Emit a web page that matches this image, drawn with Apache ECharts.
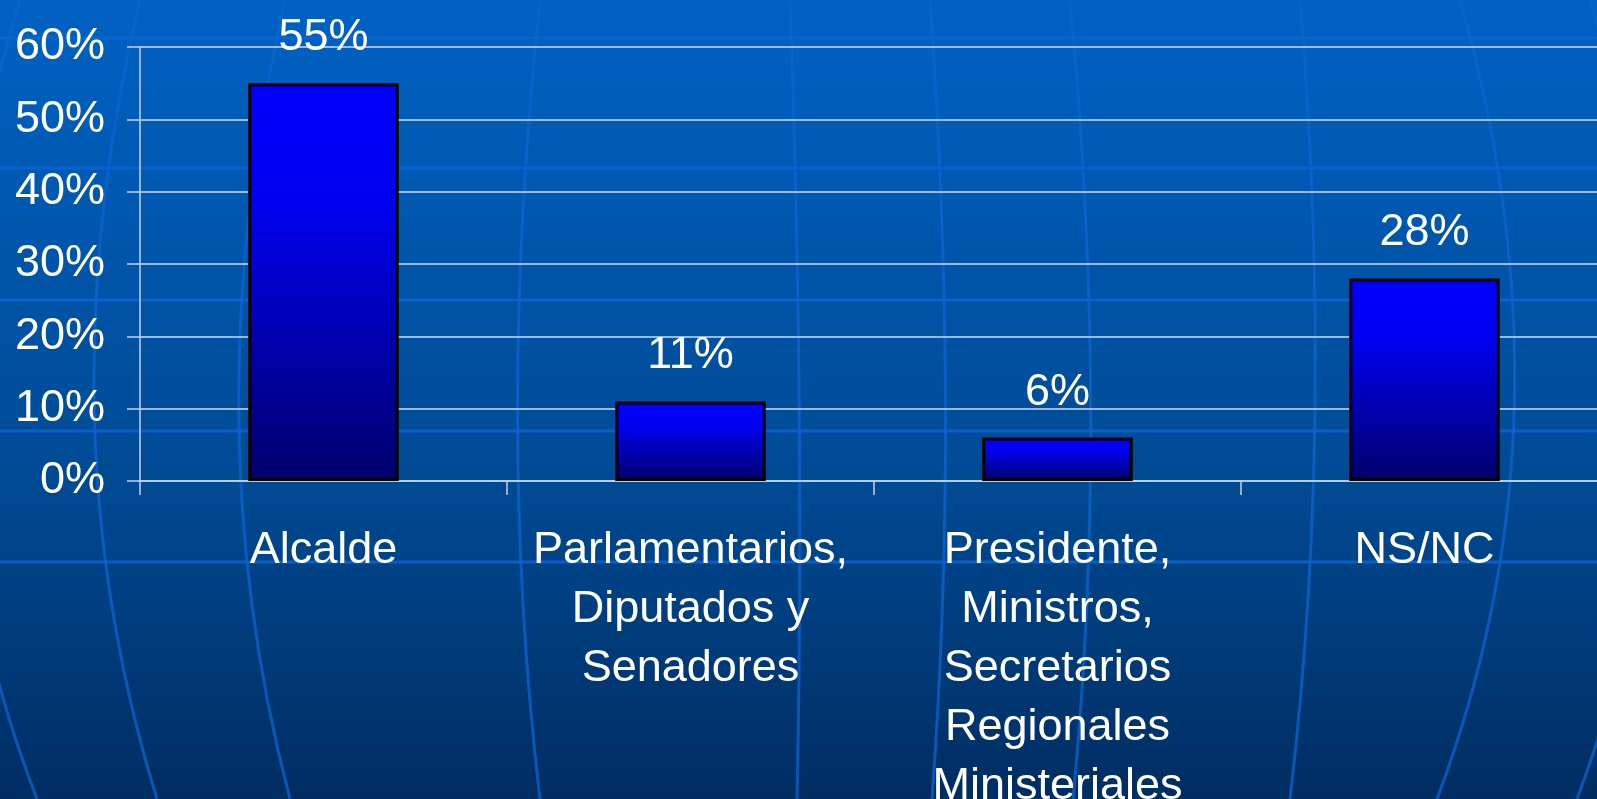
<!DOCTYPE html>
<html>
<head>
<meta charset="utf-8">
<script src="https://cdn.jsdelivr.net/npm/echarts@6/dist/echarts.min.js"></script>
<style>
html,body{margin:0;padding:0;width:1597px;height:799px;overflow:hidden;}
#chart{width:1597px;height:799px;}
</style>
</head>
<body>
<div id="chart"></div>
<script>
const categories = [
  'Alcalde',
  'Parlamentarios,\nDiputados y\nSenadores',
  'Presidente,\nMinistros,\nSecretarios\nRegionales\nMinisteriales',
  'NS/NC'
];
const values = [55, 11, 6, 28];
const yTicks = { min: 0, max: 60, interval: 10 };

// decorative background (globe-like lines)
const hLines = [38, 168, 300, 431, 562];
const meridians = [
  [[20,0],[-110,420],[37,799]],
  [[140,0],[40,420],[157,799]],
  [[285,0],[190,420],[290,799]],
  [[540,0],[495,420],[540,799]],
  [[790,0],[805,420],[797,799]],
  [[930,0],[960,420],[932,799]],
  [[1070,0],[1110,420],[1073,799]],
  [[1300,0],[1335,420],[1290,799]],
  [[1460,0],[1580,420],[1437,799]],
  [[1590,0],[1720,420],[1577,799]]
];

const deco = [];
hLines.forEach(y => deco.push({
  type: 'line', z: -100, silent: true,
  shape: { x1: 0, y1: y, x2: 1597, y2: y },
  style: { stroke: '#0a64d4', lineWidth: 3, opacity: 0.85 }
}));
meridians.forEach(m => deco.push({
  type: 'bezierCurve', z: -100, silent: true,
  shape: { x1: m[0][0], y1: m[0][1], cpx1: m[1][0], cpy1: m[1][1], x2: m[2][0], y2: m[2][1] },
  style: { stroke: '#0c64d0', lineWidth: 3, fill: null, opacity: 0.75 }
}));

const chart = echarts.init(document.getElementById('chart'), null, { renderer: 'canvas' });
const FONT = '"Liberation Sans", Arial, sans-serif';
chart.setOption({
  animation: false,
  backgroundColor: {
    type: 'linear', x: 0, y: 0, x2: 0, y2: 1,
    colorStops: [
      { offset: 0, color: '#0062c4' },
      { offset: 0.6, color: '#004a94' },
      { offset: 1, color: '#002d62' }
    ]
  },
  graphic: deco,
  grid: { left: 140, top: 47, bottom: 318, right: -11, containLabel: false, outerBoundsMode: 'none' },
  xAxis: {
    type: 'category',
    data: categories,
    axisLine: { show: true, lineStyle: { color: '#c8d2e0', width: 1.5 } },
    axisTick: { show: true, length: 14, lineStyle: { color: '#c8d2e0', width: 1.5 } },
    axisLabel: {
      color: '#ffffff', fontFamily: FONT, fontSize: 45, lineHeight: 59,
      margin: 40, interval: 0, align: 'center', hideOverlap: false
    }
  },
  yAxis: {
    type: 'value',
    min: yTicks.min, max: yTicks.max, interval: yTicks.interval,
    axisLine: { show: true, lineStyle: { color: '#c8d2e0', width: 1.5 } },
    axisTick: { show: true, length: 13, lineStyle: { color: '#c8d2e0', width: 1.5 } },
    axisLabel: { color: '#ffffff', fontFamily: FONT, fontSize: 45, margin: 35, formatter: '{value}%' },
    splitLine: { show: true, lineStyle: { color: 'rgba(230,236,248,0.9)', width: 1.5 } }
  },
  series: [{
    type: 'bar',
    data: values,
    barWidth: '41%',
    itemStyle: {
      borderColor: '#000000', borderWidth: 3,
      color: {
        type: 'linear', x: 0, y: 0, x2: 0, y2: 1,
        colorStops: [
          { offset: 0, color: '#0000ff' },
          { offset: 0.3, color: '#0000f0' },
          { offset: 1, color: '#00006c' }
        ]
      }
    },
    label: {
      show: true, position: 'top', distance: 23,
      color: '#ffffff', fontFamily: FONT, fontSize: 45,
      formatter: '{c}%'
    }
  }]
});
</script>
</body>
</html>
